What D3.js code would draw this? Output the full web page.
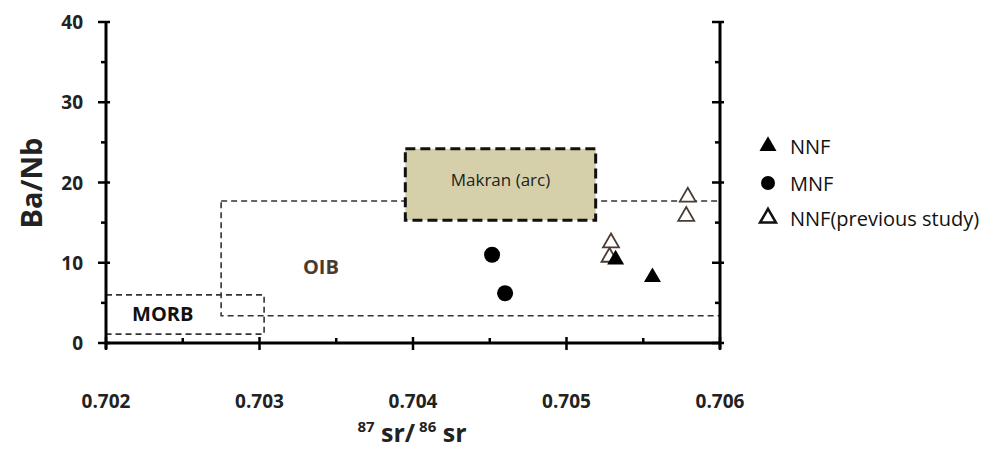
<!DOCTYPE html>
<html>
<head>
<meta charset="utf-8">
<script src="https://cdn.jsdelivr.net/npm/d3@7"></script>
<style>
  body { margin: 0; background: #fff; }
  svg { font-family: 'Open Sans', 'Noto Sans', sans-serif; }
</style>
</head>
<body>
<svg width="998" height="450"></svg>
<script>
// data
var xTicks = [0.702, 0.703, 0.704, 0.705, 0.706];
var yTicks = [0, 10, 20, 30, 40];

var nnf = [
  { x: 0.70532, y: 10.4 },
  { x: 0.70556, y: 8.2 }
];
var mnf = [
  { x: 0.704515, y: 11.0 },
  { x: 0.70460, y: 6.2 }
];
var nnfPrev = [
  { x: 0.70529, y: 12.5 },
  { x: 0.70528, y: 10.7 },
  { x: 0.70579, y: 18.2 },
  { x: 0.70578, y: 15.8 }
];

// field boundaries
var fields = [
  { name: 'MORB', x0: 0.702, x1: 0.70303, y0: 1.1, y1: 6.0, lx: 0.70237, ly: 3.7 },
  { name: 'OIB', x0: 0.70275, x1: 0.706, y0: 3.4, y1: 17.7, lx: 0.70340, ly: 9.5 }
];
var makran = { name: 'Makran (arc)', x0: 0.70395, x1: 0.70519, y0: 15.3, y1: 24.2 };

var svg = d3.select('svg');

var x = d3.scaleLinear().domain([0.702, 0.706]).range([106, 720]);
var y = d3.scaleLinear().domain([0, 40]).range([343, 22]);

// dashed fields
svg.append('g')
  .selectAll('rect')
  .data(fields)
  .enter()
  .append('rect')
  .attr('x', function (d) { return x(d.x0); })
  .attr('y', function (d) { return y(d.y1); })
  .attr('width', function (d) { return x(d.x1) - x(d.x0); })
  .attr('height', function (d) { return y(d.y0) - y(d.y1); })
  .attr('fill', 'none')
  .attr('stroke', '#333')
  .attr('stroke-width', 1.6)
  .attr('stroke-dasharray', '6,4');

svg.append('rect')
  .attr('x', x(makran.x0))
  .attr('y', y(makran.y1))
  .attr('width', x(makran.x1) - x(makran.x0))
  .attr('height', y(makran.y0) - y(makran.y1))
  .attr('fill', '#d6d0aa')
  .attr('stroke', '#111')
  .attr('stroke-width', 3)
  .attr('stroke-dasharray', '10,5');

svg.append('text')
  .attr('x', (x(makran.x0) + x(makran.x1)) / 2)
  .attr('y', y((makran.y0 + makran.y1) / 2) - 5)
  .attr('text-anchor', 'middle')
  .attr('dominant-baseline', 'central')
  .attr('font-size', 17)
  .attr('fill', '#222')
  .text(makran.name);

svg.append('g')
  .selectAll('text')
  .data(fields)
  .enter()
  .append('text')
  .attr('x', function (d) { return x(d.lx); })
  .attr('y', function (d) { return y(d.ly); })
  .attr('text-anchor', 'middle')
  .attr('dominant-baseline', 'central')
  .attr('font-size', 20)
  .attr('font-weight', 'bold')
  .attr('fill', function (d) { return d.name === 'OIB' ? '#4a3a30' : '#111'; })
  .text(function (d) { return d.name; });

// axes
var ax = svg.append('g').attr('stroke', '#000').attr('stroke-width', 3);
ax.append('line').attr('x1', x(0.702)).attr('x2', x(0.706)).attr('y1', y(0)).attr('y2', y(0));
ax.append('line').attr('x1', x(0.702)).attr('x2', x(0.702)).attr('y1', y(0) + 6).attr('y2', y(40));
ax.append('line').attr('x1', x(0.706)).attr('x2', x(0.706)).attr('y1', y(0) + 6).attr('y2', y(40));

var tk = svg.append('g').attr('stroke', '#000').attr('stroke-width', 2.5);
// y ticks on both sides
[x(0.702), x(0.706)].forEach(function (px) {
  tk.selectAll(null)
    .data(d3.range(0, 41, 5))
    .enter()
    .append('line')
    .attr('x1', function (d) { return d % 10 === 0 ? px - 8 : px - 5; })
    .attr('x2', function (d) { return d % 10 === 0 ? px + 4 : px; })
    .attr('y1', function (d) { return y(d); })
    .attr('y2', function (d) { return y(d); });
});
tk.selectAll(null)
  .data(d3.range(0, 9).map(function (i) { return 0.702 + i * 0.0005; }))
  .enter()
  .append('line')
  .attr('x1', function (d) { return x(d); })
  .attr('x2', function (d) { return x(d); })
  .attr('y1', function (d, i) { return i % 2 === 0 ? y(0) - 6 : y(0) - 5; })
  .attr('y2', function (d, i) { return i % 2 === 0 ? y(0) + 7 : y(0); });

svg.append('g')
  .selectAll('text')
  .data(yTicks)
  .enter()
  .append('text')
  .attr('x', 83)
  .attr('y', function (d) { return y(d); })
  .attr('text-anchor', 'end')
  .attr('dominant-baseline', 'central')
  .attr('font-size', 19)
  .attr('font-weight', 'bold')
  .attr('fill', '#222')
  .text(function (d) { return d; });

svg.append('g')
  .selectAll('text')
  .data(xTicks)
  .enter()
  .append('text')
  .attr('x', function (d) { return x(d); })
  .attr('y', 401)
  .attr('text-anchor', 'middle')
  .attr('dominant-baseline', 'central')
  .attr('font-size', 19)
  .attr('font-weight', 'bold')
  .attr('fill', '#222')
  .text(function (d) { return d3.format('.3f')(d); });

svg.append('text')
  .attr('transform', 'translate(30,183) rotate(-90)')
  .attr('text-anchor', 'middle')
  .attr('dominant-baseline', 'central')
  .attr('font-size', 29)
  .attr('font-weight', 'bold')
  .attr('fill', '#222')
  .text('Ba/Nb');

var xt = svg.append('text')
  .attr('x', 412)
  .attr('y', 442)
  .attr('text-anchor', 'middle')
  .attr('font-size', 25)
  .attr('font-weight', 'bold')
  .attr('fill', '#222');
xt.append('tspan').attr('font-size', 15).attr('dy', -10).text('87');
xt.append('tspan').attr('dy', 10).text(' sr/');
xt.append('tspan').attr('font-size', 15).attr('dy', -10).text(' 86');
xt.append('tspan').attr('dy', 10).text(' sr');

// points
var tri = d3.symbol().type(d3.symbolTriangle).size(125);
var triOpen = d3.symbol().type(d3.symbolTriangle).size(110);

svg.append('g')
  .selectAll('path')
  .data(nnfPrev)
  .enter()
  .append('path')
  .attr('d', triOpen)
  .attr('transform', function (d) { return 'translate(' + x(d.x) + ',' + y(d.y) + ')'; })
  .attr('fill', '#fff')
  .attr('stroke', '#4a3c34')
  .attr('stroke-width', 1.8);

svg.append('g')
  .selectAll('path')
  .data(nnf)
  .enter()
  .append('path')
  .attr('d', tri)
  .attr('transform', function (d) { return 'translate(' + x(d.x) + ',' + y(d.y) + ')'; })
  .attr('fill', '#000');

svg.append('g')
  .selectAll('circle')
  .data(mnf)
  .enter()
  .append('circle')
  .attr('cx', function (d) { return x(d.x); })
  .attr('cy', function (d) { return y(d.y); })
  .attr('r', 8)
  .attr('fill', '#000');

// legend
var legendItems = [
  { label: 'NNF', kind: 'tri' },
  { label: 'MNF', kind: 'circle' },
  { label: 'NNF(previous study)', kind: 'open' }
];
var lg = svg.append('g')
  .selectAll('g')
  .data(legendItems)
  .enter()
  .append('g')
  .attr('transform', function (d, i) { return 'translate(768,' + [146, 183, 218][i] + ')'; });
lg.each(function (d) {
  var g = d3.select(this);
  if (d.kind === 'circle') {
    g.append('circle').attr('r', 7).attr('fill', '#000');
  } else if (d.kind === 'tri') {
    g.append('path').attr('d', tri).attr('fill', '#000');
  } else {
    g.append('path').attr('d', triOpen).attr('fill', '#fff').attr('stroke', '#111').attr('stroke-width', 2.5);
  }
});
lg.append('text')
  .attr('x', 22)
  .attr('dominant-baseline', 'central')
  .attr('font-size', 20)
  .attr('fill', '#111')
  .text(function (d) { return d.label; });
</script>
</body>
</html>
